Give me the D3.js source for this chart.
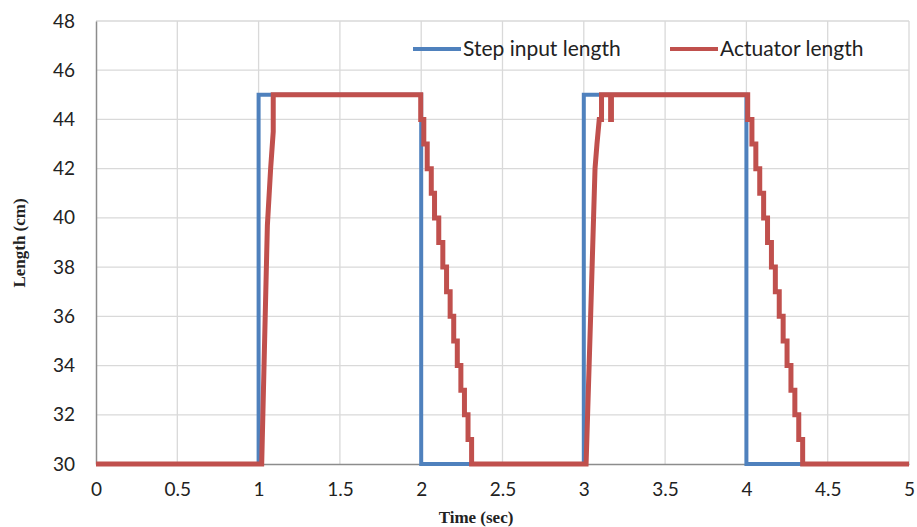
<!DOCTYPE html>
<html>
<head>
<meta charset="utf-8">
<script src="https://cdn.jsdelivr.net/npm/d3@7"></script>
<style>
  html, body { margin: 0; padding: 0; background: #ffffff; }
  svg { display: block; }
</style>
</head>
<body>
<svg id="chart" width="917" height="527"></svg>
<script>
// Step command (cm) versus time (s)
const stepTimes  = [0, 1, 1, 2, 2, 3, 3, 4, 4, 5];
const stepValues = [30, 30, 45, 45, 30, 30, 45, 45, 30, 30];

// Measured actuator length (cm) versus time (s)
const actTimes = [
  0, 1.019, 1.046, 1.054, 1.074, 1.090, 1.090,
  1.997, 1.997, 2.016, 2.016, 2.037, 2.037, 2.062, 2.062, 2.082, 2.082,
  2.108, 2.108, 2.133, 2.133, 2.156, 2.156, 2.178, 2.178, 2.200, 2.200,
  2.222, 2.222, 2.244, 2.244, 2.266, 2.266, 2.288, 2.288, 2.310, 2.310,
  3.014, 3.042, 3.069, 3.081, 3.095, 3.109, 3.109, 3.165, 3.165, 3.170, 3.170,
  4.008, 4.008, 4.034, 4.034, 4.058, 4.058, 4.082, 4.082, 4.106, 4.106,
  4.130, 4.130, 4.154, 4.154, 4.178, 4.178, 4.202, 4.202, 4.226, 4.226,
  4.250, 4.250, 4.274, 4.274, 4.298, 4.298, 4.322, 4.322, 4.346, 4.346,
  5
];
const actValues = [
  30, 30, 37.5, 39.7, 42, 43.5, 45,
  45, 44, 44, 43, 43, 42, 42, 41, 41, 40,
  40, 39, 39, 38, 38, 37, 37, 36, 36, 35,
  35, 34, 34, 33, 33, 32, 32, 31, 31, 30,
  30, 36, 42, 43, 44, 44, 45, 45, 44, 44, 45,
  45, 44, 44, 43, 43, 42, 42, 41, 41, 40,
  40, 39, 39, 38, 38, 37, 37, 36, 36, 35,
  35, 34, 34, 33, 33, 32, 32, 31, 31, 30,
  30
];

const xTicks = [0, 0.5, 1, 1.5, 2, 2.5, 3, 3.5, 4, 4.5, 5];
const yTicks = [30, 32, 34, 36, 38, 40, 42, 44, 46, 48];

const seriesNames  = ["Step input length", "Actuator length"];
const seriesColors = ["#4f81bd", "#c0504d"];

const svg = d3.select("#chart");
const plot = { left: 96, right: 909, top: 21, bottom: 464 };

const x = d3.scaleLinear().domain([0, 5]).range([plot.left, plot.right]);
const y = d3.scaleLinear().domain([30, 48]).range([plot.bottom, plot.top]);

const tickFont = "Lato, 'Open Sans', sans-serif";
const titleFont = "'Liberation Serif', 'Times New Roman', serif";

// Gridlines
const grid = svg.append("g").attr("class", "grid");
grid.selectAll("line.v").data(xTicks.slice(1)).join("line")
  .attr("class", "v")
  .attr("x1", d => x(d)).attr("x2", d => x(d))
  .attr("y1", plot.top).attr("y2", plot.bottom)
  .attr("stroke", "#d9d9d9").attr("stroke-width", 1.3);
grid.selectAll("line.h").data(yTicks.slice(1)).join("line")
  .attr("class", "h")
  .attr("x1", plot.left).attr("x2", plot.right)
  .attr("y1", d => y(d)).attr("y2", d => y(d))
  .attr("stroke", "#d9d9d9").attr("stroke-width", 1.3);

// Axes
const yAxis = d3.axisLeft(y).tickValues(yTicks).tickSize(0).tickPadding(21);
const yg = svg.append("g").attr("transform", `translate(${plot.left},0)`).call(yAxis);
yg.select(".domain").attr("stroke", "#8c8c8c").attr("stroke-width", 1.5);
yg.selectAll("text").attr("font-family", tickFont).attr("font-size", 19).attr("fill", "#222");

const xAxis = d3.axisBottom(x).tickValues(xTicks).tickSize(0).tickPadding(19)
  .tickFormat(d3.format("~g"));
const xg = svg.append("g").attr("transform", `translate(0,${plot.bottom})`).call(xAxis);
xg.select(".domain").attr("stroke", "#8c8c8c").attr("stroke-width", 1.5);
xg.selectAll("text").attr("font-family", tickFont).attr("font-size", 19).attr("fill", "#222");

// Series
const line = d3.line().x(d => x(d[0])).y(d => y(d[1]));
const stepData = stepTimes.map((t, i) => [t, stepValues[i]]);
const actData  = actTimes.map((t, i) => [t, actValues[i]]);

svg.append("path").datum(stepData)
  .attr("d", line).attr("fill", "none")
  .attr("stroke", seriesColors[0]).attr("stroke-width", 4);
svg.append("path").datum(actData)
  .attr("d", line).attr("fill", "none")
  .attr("stroke", seriesColors[1]).attr("stroke-width", 5);

// Axis titles
svg.append("text")
  .attr("transform", "translate(25,243) rotate(-90)")
  .attr("text-anchor", "middle")
  .attr("font-family", titleFont)
  .attr("font-weight", "bold").attr("font-size", 17).attr("fill", "#222")
  .text("Length (cm)");
svg.append("text")
  .attr("x", 476).attr("y", 523)
  .attr("text-anchor", "middle")
  .attr("font-family", titleFont)
  .attr("font-weight", "bold").attr("font-size", 17).attr("fill", "#222")
  .text("Time (sec)");

// Legend
const legendX = [413, 670];
const legend = svg.append("g");
seriesNames.forEach((name, i) => {
  legend.append("line")
    .attr("x1", legendX[i]).attr("x2", legendX[i] + 48)
    .attr("y1", 49).attr("y2", 49)
    .attr("stroke", seriesColors[i]).attr("stroke-width", 4);
  legend.append("text")
    .attr("x", legendX[i] + 50).attr("y", 56)
    .attr("font-family", tickFont).attr("font-size", 21).attr("fill", "#222")
    .text(name);
});
</script>
</body>
</html>
